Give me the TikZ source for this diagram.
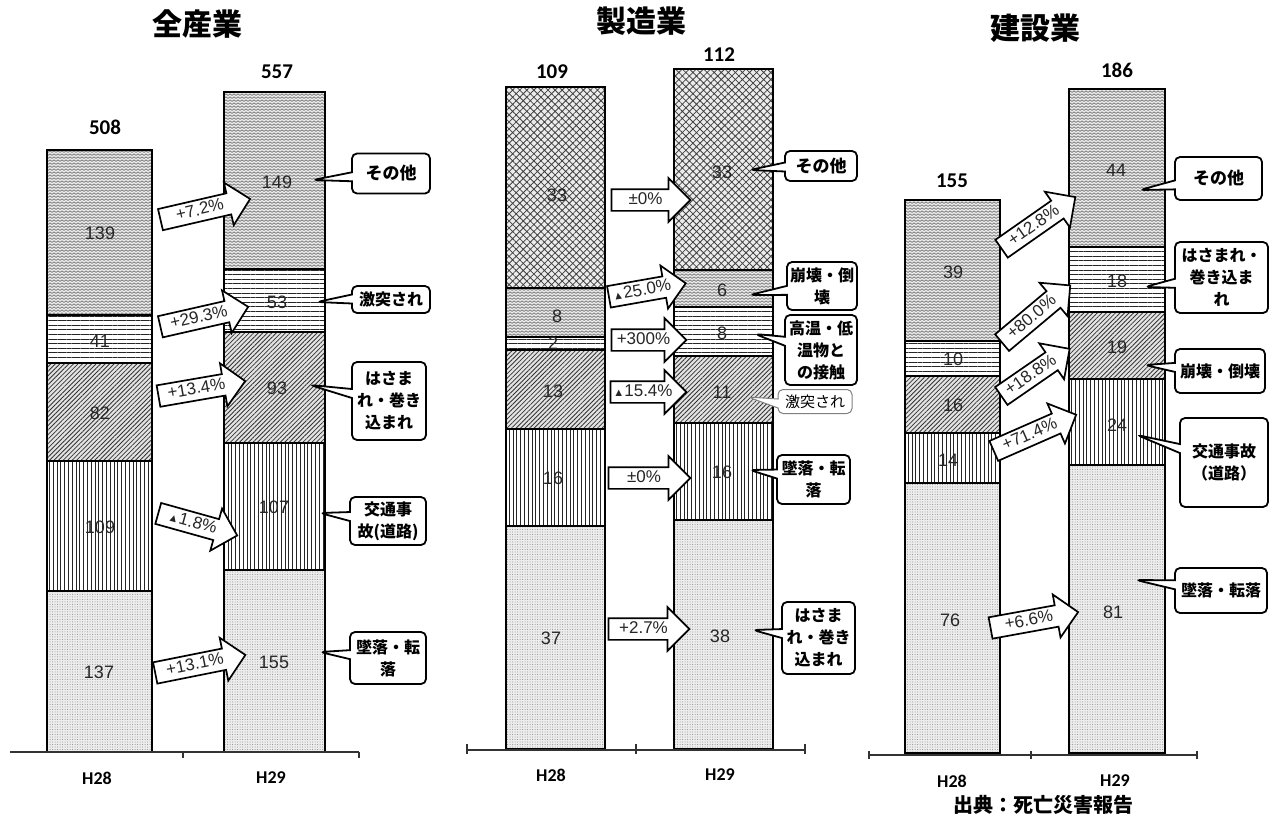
\documentclass[tikz,border=0pt]{standalone}
\usepackage{fontspec}
\setmainfont{Liberation Sans}
\newfontfamily\cjk{Noto Sans CJK JP}
\newfontfamily\calfont{Carlito}
\usetikzlibrary{patterns,patterns.meta,shapes.callouts,shapes.arrows}

\pgfdeclarepattern{
  name=zigzag, type=uncolored,
  bottom left={\pgfpoint{-1pt}{-1pt}},
  top right={\pgfpoint{5pt}{4pt}},
  tile size={\pgfpoint{4pt}{3pt}},
  code={
    \pgfsetlinewidth{0.6pt}
    \pgfpathmoveto{\pgfpoint{0pt}{0.5pt}}
    \pgfpathlineto{\pgfpoint{2pt}{2.2pt}}
    \pgfpathlineto{\pgfpoint{4pt}{0.5pt}}
    \pgfusepath{stroke}
  }
}

\newcommand\barseg[5]{\path[#5] (#1,#3) rectangle (#2,#4);}
\newcommand\trisym{{\fontsize{11}{11}\selectfont ▲}}

\tikzset{
 segbase/.style={draw=black, line width=1.1pt},
 swave/.style={segbase, preaction={fill=gray!15}, pattern={zigzag}, pattern color=black!60},
 shoriz/.style={segbase, preaction={fill=white}, pattern={Lines[angle=0,distance=4.6pt,line width=0.8pt]}, pattern color=black!85},
 sdiag/.style={segbase, preaction={fill=gray!22}, pattern={Lines[angle=45,distance=3.2pt,line width=0.8pt]}, pattern color=black!80},
 svert/.style={segbase, preaction={fill=white}, pattern={Lines[angle=90,distance=3.8pt,line width=0.8pt]}, pattern color=black!85},
 sdots/.style={segbase, preaction={fill=gray!14}, pattern={Dots[distance=2.5pt,radius=0.5pt]}, pattern color=gray!90},
 scross/.style={segbase, preaction={fill=gray!15}, pattern={Hatch[angle=45,distance=5pt,line width=0.8pt]}, pattern color=black!75},
 numv/.style={font=\fontsize{18}{18}\selectfont, text=black!85, inner sep=0pt},
 tot/.style={font=\calfont\bfseries\fontsize{21}{21}\selectfont, inner sep=0pt},
 axl/.style={font=\calfont\bfseries\fontsize{18}{18}\selectfont, inner sep=0pt},
 ttl/.style={font=\cjk\bfseries\fontsize{30}{30}\selectfont, inner sep=0pt},
 axis/.style={line width=1.2pt, black!80},
 chg/.style={single arrow, draw=black, line width=1.7pt, fill=white,
   single arrow head extend=11pt, single arrow tip angle=90,
   font=\fontsize{17}{17}\selectfont, text=black!85, text height=13pt, text depth=4pt,
   inner xsep=2pt, inner ysep=1.5pt},
 co/.style={rectangle callout, draw=black, line width=1.8pt, rounded corners=5pt,
   fill=white, align=center, font=\cjk\bfseries\fontsize{16}{22}\selectfont,
   inner sep=1pt, callout pointer width=9pt},
}

\begin{document}
\begin{tikzpicture}[x=1pt,y=-1pt]
\useasboundingbox (0,0) rectangle (1274,822);
\fill[white] (0,0) rectangle (1274,822);

% ---------------- Titles ----------------
\node[ttl] (t1) at (197,24) {全産業};
\node[ttl] (t2) at (641,21) {製造業};
\node[ttl] (t3) at (1035,28) {建設業};

% ---------------- Chart 1 bars ----------------
\barseg{47}{152}{150}{315}{swave}
\barseg{47}{152}{315}{363}{shoriz}
\barseg{47}{152}{363}{461}{sdiag}
\barseg{47}{152}{461}{591}{svert}
\barseg{47}{152}{591}{752}{sdots}
\barseg{224}{325}{92}{269}{swave}
\barseg{224}{325}{269}{332}{shoriz}
\barseg{224}{325}{332}{443}{sdiag}
\barseg{224}{325}{443}{570}{svert}
\barseg{224}{325}{570}{752}{sdots}

% ---------------- Chart 2 bars ----------------
\barseg{506}{605}{87}{288}{scross}
\barseg{506}{605}{288}{337}{swave}
\barseg{506}{605}{337}{350}{shoriz}
\barseg{506}{605}{350}{429}{sdiag}
\barseg{506}{605}{429}{526}{svert}
\barseg{506}{605}{526}{749}{sdots}
\barseg{674}{773}{69}{270}{scross}
\barseg{674}{773}{270}{307}{swave}
\barseg{674}{773}{307}{356}{shoriz}
\barseg{674}{773}{356}{423}{sdiag}
\barseg{674}{773}{423}{520}{svert}
\barseg{674}{773}{520}{749}{sdots}

% ---------------- Chart 3 bars ----------------
\barseg{905}{1000}{200}{341}{swave}
\barseg{905}{1000}{341}{376}{shoriz}
\barseg{905}{1000}{376}{433}{sdiag}
\barseg{905}{1000}{433}{483}{svert}
\barseg{905}{1000}{483}{753}{sdots}
\barseg{1069}{1165}{89}{247}{swave}
\barseg{1069}{1165}{247}{312}{shoriz}
\barseg{1069}{1165}{312}{379}{sdiag}
\barseg{1069}{1165}{379}{465}{svert}
\barseg{1069}{1165}{465}{753}{sdots}

% ---------------- Axes ----------------
\draw[axis] (10,752) -- (359,752);
\draw[axis] (183,752) -- (183,758);
\draw[axis] (359,752) -- (359,758);
\draw[axis] (467,750) -- (805,750);
\foreach \xx in {467,636,805} \draw[axis] (\xx,744) -- (\xx,754);
\draw[axis] (869,755) -- (1197,755);
\foreach \xx in {869,1031,1197} \draw[axis] (\xx,751) -- (\xx,759);

\node[axl] (h1a) at (97,778) {H28};
\node[axl] (h1b) at (271,778) {H29};
\node[axl] (h2a) at (551,775) {H28};
\node[axl] (h2b) at (720,775) {H29};
\node[axl] (h3a) at (952,781) {H28};
\node[axl] (h3b) at (1115,781) {H29};

% ---------------- Totals ----------------
\node[tot] (s1a) at (105,127) {508};
\node[tot] (s1b) at (277,72) {557};
\node[tot] (s2a) at (552,72) {109};
\node[tot] (s2b) at (719,55) {112};
\node[tot] (s3a) at (952,181) {155};
\node[tot] (s3b) at (1117,70) {186};

% ---------------- Values ----------------
\node[numv] (v11) at (100,233) {139};
\node[numv] (v12) at (100,341) {41};
\node[numv] (v13) at (100,413) {82};
\node[numv] (v14) at (100,527) {109};
\node[numv] (v15) at (99,672) {137};
\node[numv] (w11) at (277,182) {149};
\node[numv] (w12) at (277,302) {53};
\node[numv] (w13) at (277,388) {93};
\node[numv] (w14) at (274,507) {107};
\node[numv] (w15) at (274,662) {155};

\node[numv] (v21) at (557,195) {33};
\node[numv] (v22) at (557,316) {8};
\node[numv] (v23) at (553,343) {2};
\node[numv] (v24) at (553,391) {13};
\node[numv] (v25) at (553,478) {16};
\node[numv] (v26) at (551,638) {37};
\node[numv] (w21) at (722,172) {33};
\node[numv] (w22) at (722,290) {6};
\node[numv] (w23) at (722,333) {8};
\node[numv] (w24) at (722,392) {11};
\node[numv] (w25) at (722,472) {16};
\node[numv] (w26) at (720,636) {38};

\node[numv] (v31) at (953,272) {39};
\node[numv] (v32) at (953,359) {10};
\node[numv] (v33) at (953,405) {16};
\node[numv] (v34) at (948,460) {14};
\node[numv] (v35) at (950,620) {76};
\node[numv] (w31) at (1116,170) {44};
\node[numv] (w32) at (1117,281) {18};
\node[numv] (w33) at (1117,347) {19};
\node[numv] (w34) at (1117,425) {24};
\node[numv] (w35) at (1113,612) {81};

% ---------------- Change arrows ----------------
\node[chg, minimum height=92pt, rotate=13] (a11) at (200,210.5) {+7.2\%};
\node[chg, minimum height=90pt, rotate=12.8] (a12) at (199,318) {+29.3\%};
\node[chg, minimum height=88pt, rotate=9.8] (a13) at (196.5,389.5) {+13.4\%};
\node[chg, minimum height=82pt, rotate=-15.6] (a14) at (192.5,523) {\trisym 1.8\%};
\node[chg, minimum height=92pt, rotate=11.3] (a15) at (195,665) {+13.1\%};

\node[chg, minimum height=79pt] (a21) at (645.5,200) {±0\%};
\node[chg, minimum height=78pt, rotate=10] (a22) at (642,291) {\trisym 25.0\%};
\node[chg, minimum height=75pt] (a23) at (643.5,340) {+300\%};
\node[chg, minimum height=76pt] (a24) at (643,392) {\trisym 15.4\%};
\node[chg, minimum height=82pt] (a25) at (644,478) {±0\%};
\node[chg, minimum height=81pt] (a26) at (643.5,629) {+2.7\%};

\node[chg, minimum height=90pt, rotate=35] (a31) at (1034,226) {+12.8\%};
\node[chg, minimum height=89pt, rotate=40] (a32) at (1032,317.5) {+80.0\%};
\node[chg, minimum height=83pt, rotate=34.6] (a33) at (1031,375.5) {+18.8\%};
\node[chg, minimum height=90pt, rotate=23.7] (a34) at (1030,435) {+71.4\%};
\node[chg, minimum height=89pt, rotate=10.3] (a35) at (1029,621) {+6.6\%};

% ---------------- Callout pointer targets ----------------
\coordinate (p11) at (313,180);
\coordinate (p12) at (317,302);
\coordinate (p13) at (310,385);
\coordinate (p14) at (320,513);
\coordinate (p15) at (320,652);
\coordinate (p21) at (750,170);
\coordinate (p22) at (750,295);
\coordinate (p23) at (755,334);
\coordinate (p24) at (748,397);
\coordinate (p25) at (750,470);
\coordinate (p26) at (753,630);
\coordinate (p31) at (1140,190);
\coordinate (p32) at (1145,287);
\coordinate (p33) at (1145,365);
\coordinate (p34) at (1137,435);
\coordinate (p35) at (1136,580);

% ---------------- Callouts ----------------
\node[co, minimum width=78pt, minimum height=40pt, callout absolute pointer=(p11), font=\cjk\bfseries\fontsize{17}{22}\selectfont] (k11) at (391,173.5) {その他};
\node[co, minimum width=78pt, minimum height=27pt, callout absolute pointer=(p12)] (k12) at (391,299.5) {激突され};
\node[co, minimum width=74pt, minimum height=78pt, callout absolute pointer=(p13)] (k13) at (389,401) {はさま\\れ・巻き\\込まれ};
\node[co, minimum width=76pt, minimum height=48pt, callout absolute pointer=(p14)] (k14) at (388,521) {交通事\\故(道路)};
\node[co, minimum width=76pt, minimum height=52pt, callout absolute pointer=(p15)] (k15) at (388,658) {墜落・転\\落};

\node[co, minimum width=72pt, minimum height=30pt, callout absolute pointer=(p21), font=\cjk\bfseries\fontsize{17}{22}\selectfont] (k21) at (821,166) {その他};
\node[co, minimum width=70pt, minimum height=48pt, callout absolute pointer=(p22)] (k22) at (822,286) {崩壊・倒\\壊};
\node[co, minimum width=72pt, minimum height=70pt, callout absolute pointer=(p23)] (k23) at (821,350) {高温・低\\温物と\\の接触};
\node[co, minimum width=74pt, minimum height=24pt, callout absolute pointer=(p24), draw=gray, line width=1pt, font=\cjk\fontsize{15}{18}\selectfont] (k24) at (815,401.5) {激突され};
\node[co, minimum width=73pt, minimum height=49pt, callout absolute pointer=(p25)] (k25) at (813.5,479.5) {墜落・転\\落};
\node[co, minimum width=73pt, minimum height=72pt, callout absolute pointer=(p26)] (k26) at (818.5,638) {はさま\\れ・巻き\\込まれ};

\node[co, minimum width=87pt, minimum height=43pt, callout absolute pointer=(p31), font=\cjk\bfseries\fontsize{17}{22}\selectfont] (k31) at (1218.5,178.5) {その他};
\node[co, minimum width=93pt, minimum height=71pt, callout absolute pointer=(p32)] (k32) at (1221.5,277.5) {はさまれ・\\巻き込ま\\れ};
\node[co, minimum width=90pt, minimum height=44pt, callout absolute pointer=(p33)] (k33) at (1220,371) {崩壊・倒壊};
\node[co, minimum width=88pt, minimum height=89pt, callout absolute pointer=(p34)] (k34) at (1224,462.5) {交通事故\\（道路）};
\node[co, minimum width=92pt, minimum height=45pt, callout absolute pointer=(p35)] (k35) at (1221,590.5) {墜落・転落};

% ---------------- Source ----------------
\node[font=\cjk\bfseries\fontsize{20}{20}\selectfont, inner sep=0pt] (src) at (1043,805) {出典：死亡災害報告};
\end{tikzpicture}
\end{document}
